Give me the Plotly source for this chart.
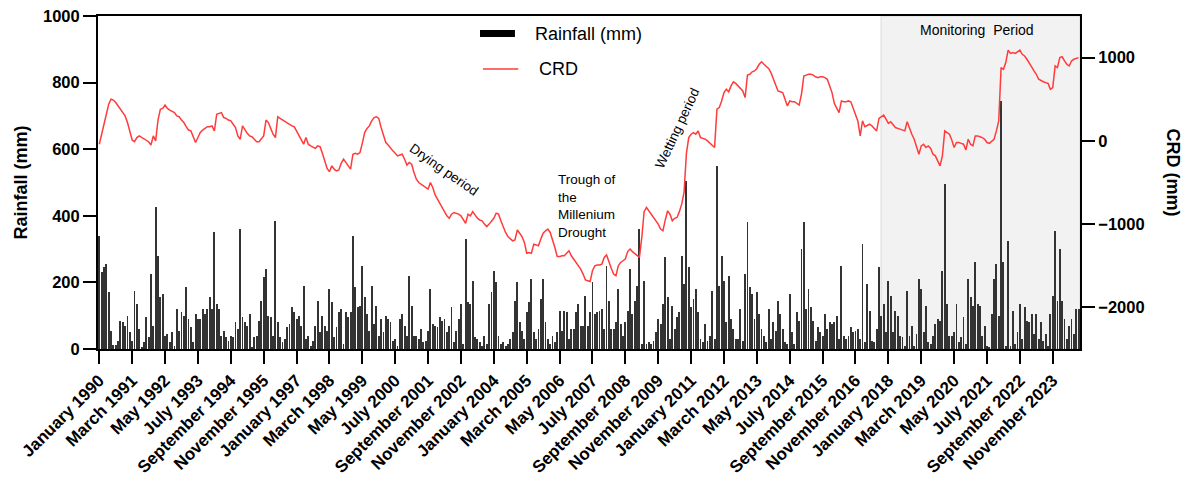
import plotly.graph_objects as go

# Monthly rainfall (mm), January 1990 onward, one row per year
rainfall = [
    340, 230, 245, 255, 170, 55, 12, 12, 25, 85, 80, 70,
    100, 50, 25, 175, 135, 60, 5, 20, 95, 35, 225, 70,
    425, 280, 155, 165, 40, 45, 20, 50, 10, 120, 55, 110,
    100, 185, 90, 65, 20, 105, 90, 90, 120, 105, 120, 155,
    120, 350, 135, 120, 40, 55, 35, 25, 40, 35, 80, 60,
    360, 95, 80, 70, 105, 5, 35, 40, 85, 145, 215, 240,
    100, 95, 40, 385, 80, 35, 20, 30, 65, 75, 125, 110,
    90, 100, 70, 190, 30, 40, 10, 25, 70, 145, 50, 100,
    70, 55, 180, 140, 35, 65, 110, 120, 15, 110, 95, 110,
    340, 185, 125, 130, 250, 155, 105, 55, 190, 75, 130, 40,
    90, 50, 100, 90, 80, 25, 30, 10, 90, 105, 70, 40,
    220, 130, 40, 40, 30, 60, 20, 25, 55, 180, 75, 70,
    65, 95, 85, 90, 50, 70, 125, 20, 55, 90, 135, 15,
    330, 140, 135, 205, 35, 30, 20, 10, 40, 15, 135, 170,
    235, 200, 40, 15, 20, 10, 15, 30, 50, 145, 200, 80,
    55, 30, 110, 140, 210, 50, 30, 60, 150, 210, 80, 30,
    15, 40, 20, 50, 115, 55, 115, 110, 30, 60, 60, 110,
    135, 70, 70, 160, 70, 110, 200, 105, 110, 115, 120, 60,
    250, 145, 60, 60, 80, 180, 75, 40, 80, 115, 240, 105,
    145, 190, 360, 15, 205, 15, 20, 15, 25, 50, 90, 75,
    135, 275, 155, 30, 130, 60, 95, 110, 280, 195, 505, 245,
    125, 150, 180, 110, 30, 20, 75, 25, 40, 175, 30, 550,
    190, 280, 205, 80, 220, 90, 60, 30, 30, 120, 25, 225,
    380, 185, 165, 90, 170, 105, 60, 40, 20, 120, 30, 80,
    55, 145, 105, 60, 20, 15, 165, 50, 15, 110, 85, 300,
    380, 120, 180, 125, 85, 25, 65, 50, 40, 105, 60, 80,
    75, 80, 100, 30, 250, 40, 30, 40, 65, 50, 55, 60,
    30, 315, 20, 195, 115, 25, 20, 60, 245, 100, 135, 50,
    205, 160, 50, 115, 100, 40, 35, 10, 175, 40, 70, 10,
    45, 210, 180, 50, 130, 20, 15, 40, 75, 90, 85, 235,
    495, 135, 40, 40, 50, 135, 20, 35, 95, 15, 210, 155,
    130, 260, 135, 130, 40, 70, 10, 5, 105, 210, 255, 100,
    745, 260, 10, 325, 10, 115, 15, 50, 135, 30, 125, 85,
    80, 105, 45, 105, 30, 80, 25, 45, 10, 105, 160, 355,
    145, 300, 145, 90, 30, 70, 90, 45, 120, 120,
]

# Cumulative rainfall departure (mm), same months
crd = [
    -40, 80, 200, 320, 440, 500, 490, 460, 420, 380, 350, 300,
    220, 120, 10, -10, 40, 60, 40, 20, 0, -10, -50, 60,
    0, 250, 380, 390, 430, 390, 370, 350, 340, 300, 290, 250,
    220, 170, 130, 120, 40, -20, 40, 100, 130, 150, 170, 170,
    180, 120, 320, 330, 340, 280, 270, 250, 240, 200, 160, 60,
    20, 180, 130, 90, 60, 50, 20, -10, -10, 20, 60, 250,
    220, 150, 80, 40, 290, 270, 250, 230, 210, 190, 180, 170,
    120, 60, 20, -40, 40, -40, -60, -80, -90, -60, -70, -150,
    -250, -330, -370, -300, -340, -360, -350, -270, -220, -260, -290, -340,
    -160, -150, -160, -140, -30, 100, 150, 180, 240, 280, 290, 270,
    160, 60, -20, -50, -90, -120, -150, -180, -170, -160, -220, -290,
    -260, -280, -380, -460, -500, -520, -540, -560, -580, -500, -560, -650,
    -700, -760, -800, -850, -900, -930, -880, -860, -870, -880, -900, -940,
    -990, -880, -900, -850, -890, -930, -950, -960, -1000, -1030, -1000, -970,
    -930, -870, -880, -960, -1040, -1100, -1150, -1180, -1200, -1190, -1070, -1110,
    -1150, -1220, -1350, -1340, -1350, -1240, -1250, -1260, -1180, -1110, -1080, -1060,
    -1100, -1180, -1280, -1390, -1390, -1380, -1380, -1350, -1320, -1380, -1420, -1460,
    -1500, -1540, -1600, -1670, -1680, -1690, -1560, -1500, -1490, -1490, -1480, -1400,
    -1370, -1460, -1530, -1600, -1620, -1500, -1460, -1440, -1420, -1330, -1300, -1330,
    -1350, -1380, -1400, -1160, -850, -800, -840, -880, -920, -960, -1000, -1060,
    -1080, -950, -840, -880, -960, -930, -920, -850, -760, -620, -150, 40,
    80, 100, 80, 120, 40, 30, 20, 0, -30, -50, -80, 380,
    400, 480, 580, 620, 590, 660, 710, 690, 660, 640, 600, 520,
    790, 800, 830, 840, 870, 920, 950, 920, 900, 870, 820, 740,
    680, 600, 590, 580, 500, 420, 480, 470, 470, 450, 430, 560,
    780, 790, 800, 800, 790, 770, 760, 770, 770, 760, 740, 660,
    580, 450, 390, 340, 480, 470, 470, 480, 470, 400, 320, 240,
    60, 240, 170, 190, 200, 180, 150, 120, 270, 290, 310, 260,
    210, 230, 200, 160, 150, 140, 130, 120, 230, 140, 80, 20,
    -80, -160, -60, -40, -80, -60, -90, -160, -180, -240, -300, -180,
    120, 100, 80, 10, -80, -20, -20, -30, -40, -110, 20, -40,
    -60, 60, 60, 50, 40, 20, -20, -30, -10, 20, 120, 240,
    880, 860, 940, 1090, 1050, 1060, 1050, 1070, 1090, 1040, 1020, 980,
    940, 890, 840, 800, 740, 720, 710, 700, 690, 620, 640, 900,
    880, 1000, 1010, 960, 920, 900, 960, 980, 990, 1000,
]

tick_labels = [
    "January 1990", "March 1991", "May 1992", "July 1993", "September 1994",
    "November 1995", "January 1997", "March 1998", "May 1999", "July 2000",
    "September 2001", "November 2002", "January 2004", "March 2005", "May 2006",
    "July 2007", "September 2008", "November 2009", "January 2011", "March 2012",
    "May 2013", "July 2014", "September 2015", "November 2016", "January 2018",
    "March 2019", "May 2020", "July 2021", "September 2022", "November 2023",
]
tick_step = 14            # months between labelled ticks
monitoring_start = 332.9  # month index where the monitoring period begins

months = list(range(len(rainfall)))
tick_positions = [i * tick_step for i in range(len(tick_labels))]
x_range = [-0.55, len(rainfall) - 0.4]

FONT = "Liberation Sans, Arial, sans-serif"

fig = go.Figure()
fig.add_trace(go.Bar(
    x=months, y=rainfall, name="Rainfall (mm)",
    marker=dict(color="#333333", line=dict(width=0)),
    width=0.38, yaxis="y",
))
fig.add_trace(go.Scatter(
    x=months, y=crd, name="CRD", mode="lines",
    line=dict(color="#ff3b3b", width=1.5), yaxis="y2",
))

# shaded monitoring period
fig.add_shape(type="rect", xref="x", yref="paper",
              x0=monitoring_start, x1=x_range[1], y0=0, y1=1,
              fillcolor="#f2f2f2", line=dict(color="#d9d9d9", width=1),
              layer="below")

# hand-drawn legend
fig.add_shape(type="rect", xref="paper", yref="paper",
              x0=0.389, x1=0.4246, y0=0.937, y1=0.958,
              fillcolor="black", line=dict(width=0))
fig.add_shape(type="line", xref="paper", yref="paper",
              x0=0.392, x1=0.428, y0=0.841, y1=0.841,
              line=dict(color="#ff3b3b", width=1.5))

annotations = [
    dict(text="Rainfall (mm)", x=0.443, y=0.946, xanchor="left", yanchor="middle",
         font=dict(size=18, color="black")),
    dict(text="CRD", x=0.447, y=0.841, xanchor="left", yanchor="middle",
         font=dict(size=18, color="black")),
    dict(text="Monitoring  Period", x=0.895, y=0.958, xanchor="center", yanchor="middle",
         font=dict(size=14, color="black")),
    dict(text="Drying period", x=0.352, y=0.540, xanchor="center", yanchor="middle",
         textangle=35, font=dict(size=13.5, color="black")),
    dict(text="Trough of<br>the<br>Millenium<br>Drought", x=0.466, y=0.429,
         xanchor="left", yanchor="middle", align="left",
         font=dict(size=13.5, color="black")),
    dict(text="Wetting period", x=0.5906, y=0.664, xanchor="center", yanchor="middle",
         textangle=-65, font=dict(size=13.5, color="black")),
    dict(text="<b>Rainfall (mm)</b>", x=-0.0794, y=0.5, xanchor="center", yanchor="middle",
         textangle=-90, font=dict(size=18, color="black")),
    dict(text="<b>CRD (mm)</b>", x=1.0947, y=0.53, xanchor="center", yanchor="middle",
         textangle=90, font=dict(size=18, color="black")),
]
for a in annotations:
    a.update(xref="paper", yref="paper", showarrow=False)

fig.update_layout(
    width=1187, height=479,
    margin=dict(l=98, r=107, t=16, b=130, autoexpand=False),
    paper_bgcolor="white", plot_bgcolor="white",
    font=dict(family=FONT, color="black"),
    showlegend=False, bargap=0,
    annotations=annotations,
    xaxis=dict(
        range=x_range, tickmode="array", tickvals=tick_positions, ticktext=tick_labels,
        tickangle=-45, ticks="outside", ticklen=13, tickwidth=2, tickcolor="black",
        showline=True, linecolor="black", linewidth=2, mirror=True,
        showgrid=False, zeroline=False, automargin=False,
        tickfont=dict(family=FONT, size=17, color="black", weight="bold"),
    ),
    yaxis=dict(
        range=[0, 1000], tickmode="array", tickvals=[0, 200, 400, 600, 800, 1000],
        ticks="outside", ticklen=13, tickwidth=2, tickcolor="black",
        showline=True, linecolor="black", linewidth=2,
        showgrid=False, zeroline=False, automargin=False,
        tickfont=dict(family=FONT, size=16.5, color="black", weight="bold"),
    ),
    yaxis2=dict(
        range=[-2500, 1500], overlaying="y", side="right",
        tickmode="array", tickvals=[-2000, -1000, 0, 1000],
        ticks="outside", ticklen=13, tickwidth=2, tickcolor="black",
        showline=True, linecolor="black", linewidth=2,
        showgrid=False, zeroline=False, automargin=False,
        tickfont=dict(family=FONT, size=16.5, color="black", weight="bold"),
    ),
)

fig.write_html("out.html")
